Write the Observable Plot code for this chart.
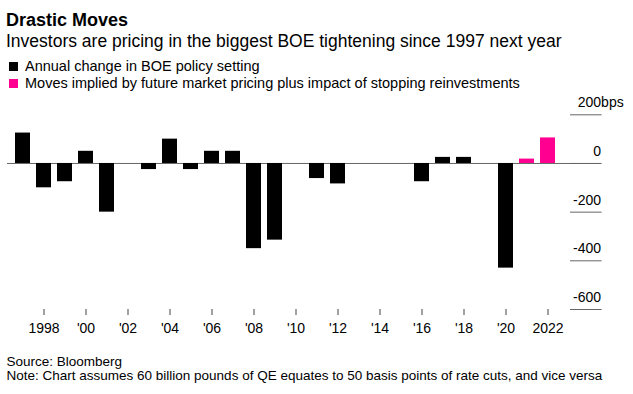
<!DOCTYPE html>
<html>
<head>
<meta charset="utf-8">
<script src="https://cdn.jsdelivr.net/npm/d3@7"></script>
<script src="https://cdn.jsdelivr.net/npm/@observablehq/plot@0.6"></script>
<style>
  body { margin: 0; background: #fff; font-family: "Liberation Sans", Arial, sans-serif; color: #000; }
  #wrap { width: 633px; height: 394px; position: relative; overflow: hidden; }
  .t { position: absolute; white-space: nowrap; }
  .title { left: 6px; top: 10px; font-size: 18px; font-weight: bold; line-height: 20px; }
  .sub { left: 6px; top: 31px; font-size: 17.5px; line-height: 20px; }
  .leg { left: 25px; font-size: 14.5px; line-height: 16px; }
  .sw { position: absolute; left: 9px; width: 9px; height: 9px; }
  .foot { left: 6.5px; font-size: 13.5px; line-height: 16px; }
  #chart { position: absolute; left: 0; top: 91px; }
  svg { display: block; }
</style>
</head>
<body>
<div id="wrap">
  <div class="t title">Drastic Moves</div>
  <div class="t sub">Investors are pricing in the biggest BOE tightening since 1997 next year</div>
  <span class="sw" style="top:62px;background:#000"></span>
  <div class="t leg" style="top:58px">Annual change in BOE policy setting</div>
  <span class="sw" style="top:79px;background:#ff0090"></span>
  <div class="t leg" style="top:75px">Moves implied by future market pricing plus impact of stopping reinvestments</div>
  <div id="chart"></div>
  <div class="t foot" style="top:354px">Source: Bloomberg</div>
  <div class="t foot" style="top:368px">Note: Chart assumes 60 billion pounds of QE equates to 50 basis points of rate cuts, and vice versa</div>
</div>
<script>
const years = [1997,1998,1999,2000,2001,2002,2003,2004,2005,2006,2007,2008,2009,2010,2011,2012,2013,2014,2015,2016,2017,2018,2019,2020,2021,2022];
const changes = [125,-100,-75,50,-200,0,-25,100,-25,50,50,-350,-315,0,-62,-84,0,0,0,-75,25,25,0,-430,18,105];
const seriesNames = ["Annual change in BOE policy setting","Moves implied by future market pricing plus impact of stopping reinvestments"];
const seriesOfYear = years.map(y => y >= 2021 ? seriesNames[1] : seriesNames[0]);
const seriesColors = ["#000000","#ff0090"];
const xTicks = [1998,2000,2002,2004,2006,2008,2010,2012,2014,2016,2018,2020,2022];
const xTickLabels = ["1998","'00","'02","'04","'06","'08","'10","'12","'14","'16","'18","'20","2022"];
const yTicks = [200,0,-200,-400,-600];
const yTickLabels = ["200","0","-200","-400","-600"];
const yUnit = "bps";

const data = years.map((y,i) => ({year: y, value: changes[i], series: seriesOfYear[i]}));

const chart = Plot.plot({
  width: 633,
  height: 250,
  marginLeft: 3.6,
  marginRight: 67.4,
  marginTop: 23.3,
  marginBottom: 32,
  style: {fontFamily: '"Liberation Sans", Arial, sans-serif', fontSize: "14px", color: "#000", background: "#fff"},
  x: {type: "band", domain: years, paddingInner: 0.306, paddingOuter: 0.153, label: null},
  y: {domain: [-600, 200], label: null},
  color: {domain: seriesNames, range: seriesColors},
  marks: [
    Plot.ruleY([0], {stroke: "#666", strokeWidth: 1, insetLeft: 3.4, insetRight: -35}),
    Plot.barY(data.filter(d => d.value !== 0), {x: "year", y: "value", fill: "series"}),
    Plot.axisY({anchor: "right", ticks: yTicks, tickSize: 31.6, dx: 3.4, tickFormat: () => "", stroke: "#666", strokeOpacity: 1, label: null}),
    Plot.axisY({anchor: "right", ticks: yTicks, tickSize: 0, tickPadding: 0, textAnchor: "end", dx: 35, dy: -12,
      tickFormat: d => yTickLabels[yTicks.indexOf(d)], fill: "#000", fontSize: 14, label: null}),
    Plot.text([yTicks[0]], {y: d => d, text: () => yUnit, frameAnchor: "right", textAnchor: "start", dx: 35, dy: -12, fill: "#000", fontSize: 14}),
    Plot.axisX({ticks: xTicks, tickSize: 6, tickPadding: 8, stroke: "#444", label: null,
      tickFormat: d => xTickLabels[xTicks.indexOf(d)], fill: "#000", fontSize: 14})
  ]
});
document.getElementById("chart").appendChild(chart);
</script>
</body>
</html>
